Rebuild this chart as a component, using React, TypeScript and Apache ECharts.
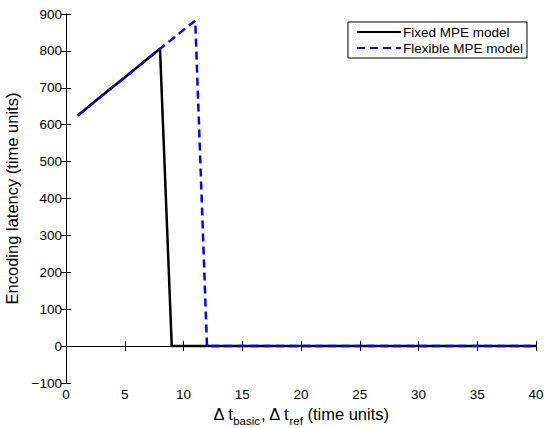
import React, { useEffect, useRef } from "react";
import * as echarts from "echarts";

const fixedX = [1, 2, 3, 4, 5, 6, 7, 8, 9, 10, 15, 20, 25, 30, 35, 40];
const fixedY = [625, 651, 677, 703, 728, 754, 780, 806, 0, 0, 0, 0, 0, 0, 0, 0];
const flexX = [1, 2, 3, 4, 5, 6, 7, 8, 9, 10, 11, 12, 15, 20, 25, 30, 35, 40];
const flexY = [625, 651, 677, 703, 728, 754, 780, 806, 831, 857, 882, 0, 0, 0, 0, 0, 0, 0];
const seriesNames = ["Fixed MPE model", "Flexible MPE model"];
const yLabel = "Encoding latency (time units)";

const FONT = "'Liberation Sans', Arial, Helvetica, sans-serif";

export default function App() {
  const ref = useRef<HTMLDivElement>(null);
  useEffect(() => {
    if (!ref.current) return;
    const chart = echarts.init(ref.current, undefined, { renderer: "svg" });
    const axisLine = { show: true, lineStyle: { color: "#000", width: 1 } };
    const tick = { show: true, inside: true, length: 5, lineStyle: { color: "#000" } };
    const label = { color: "#000", fontSize: 13.5, fontFamily: FONT };
    chart.setOption({
      animation: false,
      backgroundColor: "#fff",
      grid: { left: 66, right: 8, top: 14, bottom: 45, containLabel: false, outerBoundsMode: "none" },
      legend: {
        orient: "vertical",
        right: 17,
        top: 22,
        backgroundColor: "#fff",
        borderColor: "#000",
        borderWidth: 1,
        borderRadius: 0,
        padding: [3, 4, 3, 8],
        itemGap: 2,
        itemWidth: 44,
        itemHeight: 14,
        itemStyle: { opacity: 0 },
        textStyle: { color: "#000", fontSize: 13.5, fontFamily: FONT, padding: [0, 0, 0, -3] },
        data: seriesNames,
      },
      xAxis: [
        {
          type: "value",
          min: 0,
          max: 40,
          interval: 5,
          axisLine,
          axisTick: tick,
          splitLine: { show: false },
          axisLabel: { ...label, margin: 4 },
          name: "{n|Δ t}{s|basic}{n|, Δ t}{s|ref}{n| (time units)}",
          nameLocation: "middle",
          nameGap: 20,
          nameTextStyle: {
            rich: {
              n: { fontSize: 16.5, fontFamily: FONT, color: "#000", verticalAlign: "bottom", lineHeight: 19 },
              s: { fontSize: 11.5, fontFamily: FONT, color: "#000", verticalAlign: "bottom", lineHeight: 19, padding: [0, 0, -4, 0] },
            },
          },
        },
        {
          type: "value",
          position: "top",
          min: 0,
          max: 40,
          interval: 5,
          axisLine,
          axisTick: tick,
          splitLine: { show: false },
          axisLabel: { show: false },
        },
      ],
      yAxis: [
        {
          type: "value",
          min: -100,
          max: 900,
          interval: 100,
          axisLine,
          axisTick: tick,
          splitLine: { show: false },
          axisLabel: {
            ...label,
            margin: 4,
            formatter: (v: number) => (v < 0 ? "\u2212" + Math.abs(v) : String(v)),
          },
          name: yLabel,
          nameLocation: "middle",
          nameGap: 41,
          nameTextStyle: { color: "#000", fontSize: 16.5, fontFamily: FONT },
        },
        {
          type: "value",
          position: "right",
          min: -100,
          max: 900,
          interval: 100,
          axisLine,
          axisTick: tick,
          splitLine: { show: false },
          axisLabel: { show: false },
        },
      ],
      series: [
        {
          name: seriesNames[0],
          type: "line",
          data: fixedX.map((x, i) => [x, fixedY[i]]),
          showSymbol: false,
          symbol: "none",
          lineStyle: { color: "#000", width: 2.5 },
          itemStyle: { color: "#000" },
          z: 2,
        },
        {
          name: seriesNames[1],
          type: "line",
          data: flexX.map((x, i) => [x, flexY[i]]),
          showSymbol: false,
          symbol: "none",
          lineStyle: { color: "#0000ff", width: 2.5, type: [8, 5] },
          itemStyle: { color: "#0000ff" },
          z: 3,
        },
      ],
    });
    return () => chart.dispose();
  }, []);
  return <div ref={ref} style={{ width: 544, height: 428, position: "absolute", left: 0, top: 0 }} />;
}
